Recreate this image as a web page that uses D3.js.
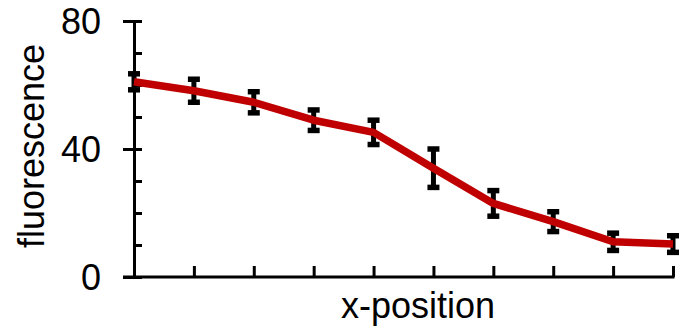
<!DOCTYPE html>
<html>
<head>
    <title>fluorescence</title>
    <style>
        html, body {
            margin: 0;
            padding: 0;
            background-color: #ffffff;
            overflow: hidden;
        }
        text {
            font-family: "Liberation Sans", Arial, sans-serif;
        }
    </style>
</head>
<body>
    <div id="container"></div>

    <script src="https://cdn.jsdelivr.net/npm/d3@7"></script>
    <script>
        // data
        var positions = [0, 1, 2, 3, 4, 5, 6, 7, 8, 9];
        var means = [61, 58.2, 54.6, 49, 45.2, 34, 23, 17.3, 11, 10.3];
        var errors = [2.5, 3.6, 3.3, 3.2, 3.8, 6, 4, 3.1, 2.7, 2.6];
        var yTickLabels = [0, 40, 80];
        var yMinorTicks = [0, 10, 20, 30, 40, 50, 60, 70, 80];

        var width = 683, height = 332;
        var margin = { top: 21, right: 10, bottom: 55, left: 134 };

        var svg = d3.select("#container")
            .append("svg")
            .attr("width", width)
            .attr("height", height);

        var x = d3.scaleLinear()
            .domain([0, 9])
            .range([margin.left, 673]);

        var y = d3.scaleLinear()
            .domain([0, 80])
            .range([height - margin.bottom, margin.top]);

        // y axis, outward major ticks with labels
        var yAxis = svg.append("g")
            .attr("transform", "translate(" + margin.left + ",0)")
            .call(d3.axisLeft(y).tickValues(yTickLabels).tickSize(11).tickSizeOuter(0).tickPadding(22));
        yAxis.select(".domain").attr("stroke-width", 3);
        yAxis.selectAll(".tick line").attr("stroke-width", 3);
        yAxis.selectAll(".tick text")
            .attr("font-size", 36)
            .attr("fill", "#000")
            .attr("dy", "0.36em");

        // inward ticks every 10
        var yInner = svg.append("g")
            .attr("transform", "translate(" + margin.left + ",0)")
            .call(d3.axisRight(y).tickValues(yMinorTicks).tickSize(8).tickSizeOuter(0).tickFormat(""));
        yInner.select(".domain").remove();
        yInner.selectAll(".tick line").attr("stroke-width", 3);

        // x axis, ticks pointing up, no labels
        var xAxis = svg.append("g")
            .attr("transform", "translate(0," + y(0) + ")")
            .call(d3.axisTop(x).tickValues(positions.slice(1)).tickSize(11).tickSizeOuter(0).tickFormat(""));
        xAxis.select(".domain").remove();
        xAxis.selectAll(".tick line").attr("stroke-width", 3);

        svg.append("line")
            .attr("x1", margin.left - 11)
            .attr("x2", x(9) + 1.5)
            .attr("y1", y(0))
            .attr("y2", y(0))
            .attr("stroke", "#000")
            .attr("stroke-width", 3);

        // error bars
        var bars = svg.append("g").selectAll("g")
            .data(positions)
            .join("g");

        bars.append("line")
            .attr("x1", function (d) { return x(d); })
            .attr("x2", function (d) { return x(d); })
            .attr("y1", function (d, i) { return y(means[i] + errors[i]); })
            .attr("y2", function (d, i) { return y(means[i] - errors[i]); })
            .attr("stroke", "#000")
            .attr("stroke-width", 5);

        bars.append("line")
            .attr("x1", function (d) { return x(d) - 6; })
            .attr("x2", function (d) { return x(d) + 6; })
            .attr("y1", function (d, i) { return y(means[i] + errors[i]); })
            .attr("y2", function (d, i) { return y(means[i] + errors[i]); })
            .attr("stroke", "#000")
            .attr("stroke-width", 5.5);

        bars.append("line")
            .attr("x1", function (d) { return x(d) - 6; })
            .attr("x2", function (d) { return x(d) + 6; })
            .attr("y1", function (d, i) { return y(means[i] - errors[i]); })
            .attr("y2", function (d, i) { return y(means[i] - errors[i]); })
            .attr("stroke", "#000")
            .attr("stroke-width", 5.5);

        // mean line
        var line = d3.line()
            .x(function (d) { return x(d); })
            .y(function (d, i) { return y(means[i]); });

        svg.append("path")
            .datum(positions)
            .attr("d", line)
            .attr("fill", "none")
            .attr("stroke", "#c00000")
            .attr("stroke-width", 7.5)
            .attr("stroke-linejoin", "round");

        // axis titles
        svg.append("text")
            .attr("x", 418)
            .attr("y", 318)
            .attr("text-anchor", "middle")
            .attr("font-size", 36)
            .text("x-position");

        svg.append("text")
            .attr("transform", "translate(44,146) rotate(-90)")
            .attr("text-anchor", "middle")
            .attr("font-size", 36)
            .text("fluorescence");
    </script>
</body>
</html>
